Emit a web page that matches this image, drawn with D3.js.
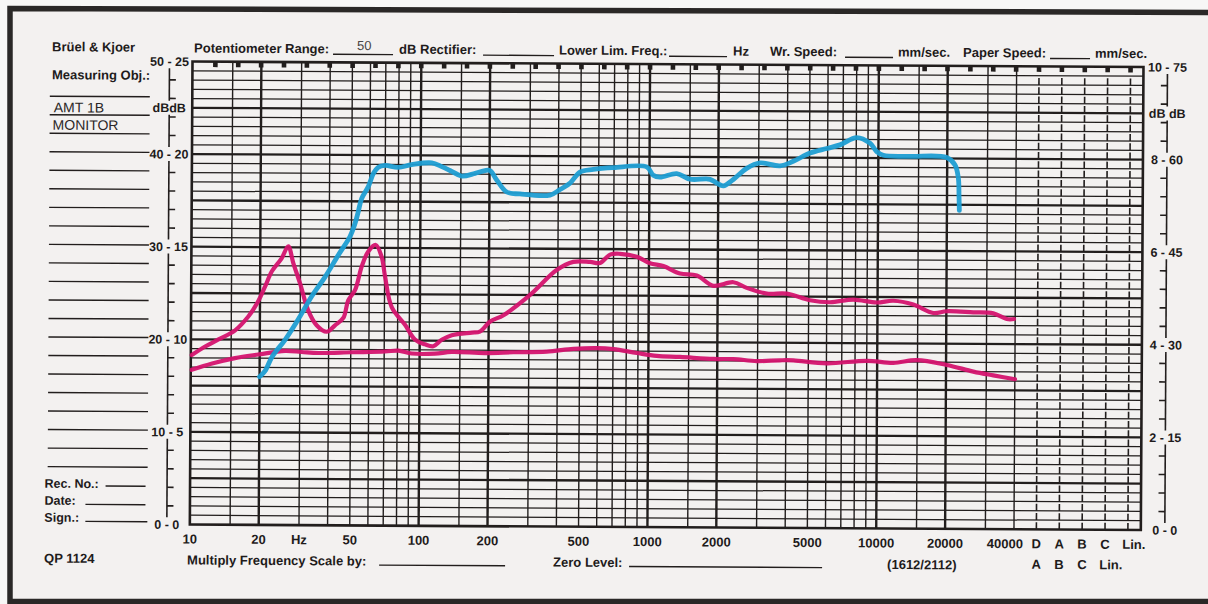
<!DOCTYPE html>
<html>
<head>
<meta charset="utf-8">
<script src="https://cdn.jsdelivr.net/npm/d3@7"></script>
<style>
  body { margin: 0; background: #f7f7f6; }
  svg { display: block; }
  text { font-family: "Liberation Sans", Arial, Helvetica, sans-serif; fill: #1e1b1b; }
</style>
</head>
<body>
<svg></svg>
<script>
// frequency grid (Hz) of the recording paper
var gridHz = [15, 20, 30, 40, 50, 60, 70, 80, 90, 100, 150, 200, 300, 400, 500, 600, 700, 800, 900,
  1000, 1500, 2000, 3000, 4000, 5000, 6000, 7000, 8000, 9000, 10000, 15000, 20000, 30000, 40000];
var heavyHz = [20, 100, 200, 1000, 2000, 10000, 20000];
var freqLabels = [10, 20, 50, 100, 200, 500, 1000, 2000, 5000, 10000, 20000, 40000];
var weightRow1 = ["D", "A", "B", "C", "Lin."];
var weightRow2 = ["A", "B", "C", "Lin."];
var leftLabels = [[50, "50 - 25"], [45, "dBdB"], [40, "40 - 20"], [30, "30 - 15"], [20, "20 - 10"], [10, "10 - 5"], [0, "0 - 0"]];
var rightLabels = [[50, "10 - 75"], [45, "dB dB"], [40, "8 - 60"], [30, "6 - 45"], [20, "4 - 30"], [10, "2 - 15"], [0, "0 - 0"]];

// traces: [Hz, dB]
var blueTrace = [[20, 16.0], [21.1, 16.6], [22.7, 18.2], [25.8, 20.0], [29.4, 22.2], [33.6, 24.7], [38.4, 26.8],
  [43.9, 29.2], [49.3, 31.2], [51.8, 32.6], [53.5, 33.9], [55.3, 35.3], [59.1, 36.6], [62.1, 38.0], [65.3, 38.7],
  [69.8, 38.9], [79.8, 38.7], [91.3, 39.0], [111.7, 39.2], [123.6, 38.8], [136.7, 38.3], [151, 37.8], [173, 38.1],
  [191, 38.4], [201, 38.4], [215, 37.4], [238, 36.1], [272, 35.9], [368, 35.8], [407, 36.4], [450, 37.1],
  [497, 38.3], [568, 38.6], [695, 38.8], [972, 38.9], [1039, 38.0], [1112, 37.8], [1316, 38.2], [1504, 37.6],
  [1840, 37.6], [1969, 37.2], [2104, 36.9], [2326, 37.6], [2660, 38.8], [3040, 39.4], [3720, 39.1], [4250, 39.6],
  [5025, 40.5], [5943, 41.0], [6794, 41.4], [8034, 42.2], [9186, 41.6], [9833, 40.7], [10510, 40.3],
  [13750, 40.2], [19900, 40.1], [21640, 39.3], [22390, 37.9], [22570, 35.9], [22660, 34.4]];

var upperTrace = [[10.1, 18.3], [11.5, 19.2], [13.2, 20.0], [15.6, 21.0], [17.8, 22.5], [19.4, 23.9], [21.0, 25.7],
  [22.5, 27.4], [24.8, 28.8], [26.5, 30.1], [27.9, 28.3], [29.9, 26.1], [32.5, 23.2], [35.4, 21.6], [39.2, 20.9],
  [42.6, 21.6], [46.3, 22.4], [48.6, 24.3], [52.0, 25.4], [55.6, 28.0], [59.3, 29.6], [63.9, 30.3], [67.9, 29.0],
  [70.3, 26.9], [75.3, 23.6], [86.2, 21.7], [95.4, 20.1], [105.5, 19.6], [114.7, 19.4], [124.8, 20.1],
  [138, 20.6], [169, 20.9], [183, 21.0], [203, 22.1], [232, 22.8], [303, 25.0], [395, 27.7], [467, 28.6],
  [553, 28.6], [611, 28.5], [676, 29.4], [747, 29.5], [884, 29.2], [1011, 28.5], [1156, 28.2], [1368, 27.4],
  [1619, 27.2], [1914, 26.1], [2340, 26.5], [2679, 25.9], [3278, 25.3], [4008, 25.3], [5068, 24.6],
  [6199, 24.4], [7836, 24.7], [9920, 24.4], [11720, 24.6], [14340, 24.2], [17540, 23.3], [20070, 23.5],
  [26240, 23.4], [32090, 23.3], [36730, 22.7], [39540, 22.7]];

var lowerTrace = [[10.1, 16.7], [12.4, 17.4], [15.6, 18.0], [19.7, 18.4], [25.8, 18.8], [30.5, 18.7], [36.1, 18.6],
  [50.5, 18.7], [70.6, 18.8], [80.7, 18.9], [92.3, 18.6], [116.7, 18.6], [138, 18.8], [193, 18.7], [257, 18.8],
  [359, 18.9], [470, 19.2], [594, 19.3], [702, 19.2], [889, 18.8], [1087, 18.5], [1374, 18.4], [1922, 18.2],
  [2351, 18.2], [2975, 18.0], [3761, 18.1], [4300, 18.1], [6017, 17.8], [9000, 18.1], [11760, 17.9],
  [14890, 18.2], [20140, 17.7], [26330, 17.0], [32200, 16.6], [40070, 16.2]];

var W = 1208, H = 604;
var x0 = 192.5, y0 = 61.5, pw = 951, ph = 463;
var decade = 228.8;
var ink = "#221e1d";

var svg = d3.select("svg").attr("width", W).attr("height", H);

// paper and outer frame
svg.append("rect").attr("x", 10).attr("y", 10).attr("width", W).attr("height", 591).attr("fill", "#f3f1f0");
svg.append("path")
  .attr("d", "M10,604 L10,8.5 L1215,12.5 M10,601.5 L1215,601.5")
  .attr("fill", "none").attr("stroke", "#2a2827").attr("stroke-width", 5.5);

// the scan is a little skewed
var g = svg.append("g").attr("transform", "rotate(0.33," + x0 + "," + y0 + ")");

var x = d3.scaleLog().domain([10, 1e5]).range([x0, x0 + 4 * decade]);
var y = d3.scaleLinear().domain([0, 50]).range([y0 + ph, y0]);

var colHz = d3.range(37, 42).map(function(k) { return Math.pow(10, 1 + k / 10); });
var markHz = d3.range(1, 42).map(function(k) { return Math.pow(10, 1 + k / 10); });

// horizontal grid, every dB
g.append("g").selectAll("line")
  .data(d3.range(1, 50))
  .enter().append("line")
  .attr("x1", x0).attr("x2", x0 + pw)
  .attr("y1", function(d) { return y(d); }).attr("y2", function(d) { return y(d); })
  .attr("stroke", ink)
  .attr("stroke-width", function(d) { return d % 5 == 0 ? 2.3 : 1.25; });

// vertical grid
g.append("g").selectAll("line")
  .data(gridHz)
  .enter().append("line")
  .attr("x1", function(d) { return x(d); }).attr("x2", function(d) { return x(d); })
  .attr("y1", y0).attr("y2", y0 + ph)
  .attr("stroke", ink)
  .attr("stroke-width", function(d) { return heavyHz.indexOf(d) >= 0 ? 2.4 : 1.4; });

// weighting columns: short ticks above each dB line
colHz.forEach(function(f) {
  g.append("g").selectAll("line")
    .data(d3.range(0, 49))
    .enter().append("line")
    .attr("x1", x(f)).attr("x2", x(f))
    .attr("y1", function(d) { return y(d) - 7; }).attr("y2", function(d) { return y(d); })
    .attr("stroke", ink).attr("stroke-width", 1.6);
});

// top marks
g.append("g").selectAll("rect")
  .data(markHz)
  .enter().append("rect")
  .attr("x", function(d) { return x(d) - 2.3; })
  .attr("y", y0)
  .attr("width", 4.6).attr("height", 5.5)
  .attr("fill", ink);

// plot border
g.append("rect")
  .attr("x", x0).attr("y", y0).attr("width", pw).attr("height", ph)
  .attr("fill", "none").attr("stroke", ink).attr("stroke-width", 2.6);

// side scales
function sideScale(ax, dir, labels) {
  var lv = labels.map(function(d) { return d[0]; }).sort(d3.ascending);
  for (var i = 0; i < lv.length - 1; i++) {
    g.append("line")
      .attr("x1", ax).attr("x2", ax)
      .attr("y1", y(lv[i]) - 7).attr("y2", y(lv[i + 1]) + 7)
      .attr("stroke", ink).attr("stroke-width", 1.6);
  }
  g.append("g").selectAll("line")
    .data(d3.range(2, 50, 2).filter(function(d) { return lv.indexOf(d) < 0; }))
    .enter().append("line")
    .attr("x1", ax).attr("x2", ax + dir * 6.5)
    .attr("y1", function(d) { return y(d); }).attr("y2", function(d) { return y(d); })
    .attr("stroke", ink).attr("stroke-width", 1.6);
  g.append("g").selectAll("text")
    .data(labels)
    .enter().append("text")
    .attr("x", ax).attr("y", function(d) { return y(d[0]) + 4.5; })
    .attr("text-anchor", "middle")
    .style("font-size", "12.5px").style("font-weight", "bold")
    .text(function(d) { return d[1]; });
}
sideScale(x0 - 23, 1, leftLabels);
sideScale(x0 + 975, -1, rightLabels);

// left form lines
g.append("g").selectAll("line")
  .data(d3.range(6, 47, 2))
  .enter().append("line")
  .attr("x1", 50).attr("x2", 150)
  .attr("y1", function(d) { return y(d) - 1.5; }).attr("y2", function(d) { return y(d) - 1.5; })
  .attr("stroke", ink).attr("stroke-width", 1.4);

function label(tx, ty, s, size, weight) {
  return g.append("text").attr("x", tx).attr("y", ty)
    .style("font-size", (size || 13) + "px")
    .style("font-weight", weight || "bold")
    .text(s);
}
function rule(xa, xb, yy) {
  g.append("line").attr("x1", xa).attr("x2", xb).attr("y1", yy).attr("y2", yy)
    .attr("stroke", ink).attr("stroke-width", 1.4);
}

label(52, 52, "Brüel & Kjoer");
label(52, 80, "Measuring Obj.:");
label(54, 113, "AMT 1B", 14, "normal").style("fill", "#2a2626");
label(53, 130.5, "MONITOR", 14, "normal").style("fill", "#2a2626");
label(47, 488.5, "Rec. No.:", 12.5);
rule(108, 148, y(4) - 1);
label(47, 505.5, "Date:", 12.5);
rule(88, 148, y(2) - 1);
label(47, 522.5, "Sign.:", 12.5);
rule(88, 150, y(0) - 2.5);

// header
label(194, 52.5, "Potentiometer Range:");
rule(333, 393, 53.5);
label(357, 49, "50", 13, "normal").style("fill", "#4a4646");
label(399, 52.5, "dB Rectifier:");
rule(483, 554, 53.5);
label(559, 52.5, "Lower Lim. Freq.:");
rule(669, 727, 53.5);
label(733, 52.5, "Hz");
label(770, 52.5, "Wr. Speed:");
rule(845, 893, 53.5);
label(898, 52.5, "mm/sec.");
label(963, 52.5, "Paper Speed:");
rule(1050, 1090, 53.5);
label(1095, 52.5, "mm/sec.");

// frequency axis labels
g.append("g").selectAll("text")
  .data(freqLabels)
  .enter().append("text")
  .attr("x", function(d) { return x(d) + (d == 40000 ? -9 : 0); })
  .attr("y", 543.5)
  .attr("text-anchor", "middle")
  .style("font-size", "13px").style("font-weight", "bold")
  .text(function(d) { return d; });
g.append("text").attr("x", x(30)).attr("y", 543.5).attr("text-anchor", "middle")
  .style("font-size", "13px").style("font-weight", "bold").text("Hz");

g.append("g").selectAll("text")
  .data(weightRow1)
  .enter().append("text")
  .attr("x", function(d, i) { return x(colHz[i]) + (d == "Lin." ? 6 : 0); })
  .attr("y", 543.5)
  .attr("text-anchor", "middle")
  .style("font-size", "13px").style("font-weight", "bold")
  .text(function(d) { return d; });
g.append("g").selectAll("text")
  .data(weightRow2)
  .enter().append("text")
  .attr("x", function(d, i) { return x(colHz[i]) + (d == "Lin." ? 6 : 0); })
  .attr("y", 564)
  .attr("text-anchor", "middle")
  .style("font-size", "13px").style("font-weight", "bold")
  .text(function(d) { return d; });

// footer
label(47, 563.5, "QP 1124");
label(190, 564.5, "Multiply Frequency Scale by:");
rule(382, 508, 564);
label(556, 564.5, "Zero Level:");
rule(632, 825, 564);
label(890, 565, "(1612/2112)");

// traces
var line = d3.line()
  .x(function(d) { return x(d[0]); })
  .y(function(d) { return y(d[1]); })
  .curve(d3.curveCatmullRom.alpha(0.5));

[[lowerTrace, "#d4136e", 4.2], [upperTrace, "#d4136e", 4.2], [blueTrace, "#1d9dd2", 4.8]].forEach(function(t) {
  g.append("path")
    .datum(t[0])
    .attr("d", line)
    .attr("fill", "none")
    .attr("stroke", t[1])
    .attr("stroke-width", t[2])
    .attr("stroke-linecap", "round")
    .attr("stroke-linejoin", "round")
    .attr("opacity", 0.95);
});
</script>
</body>
</html>
